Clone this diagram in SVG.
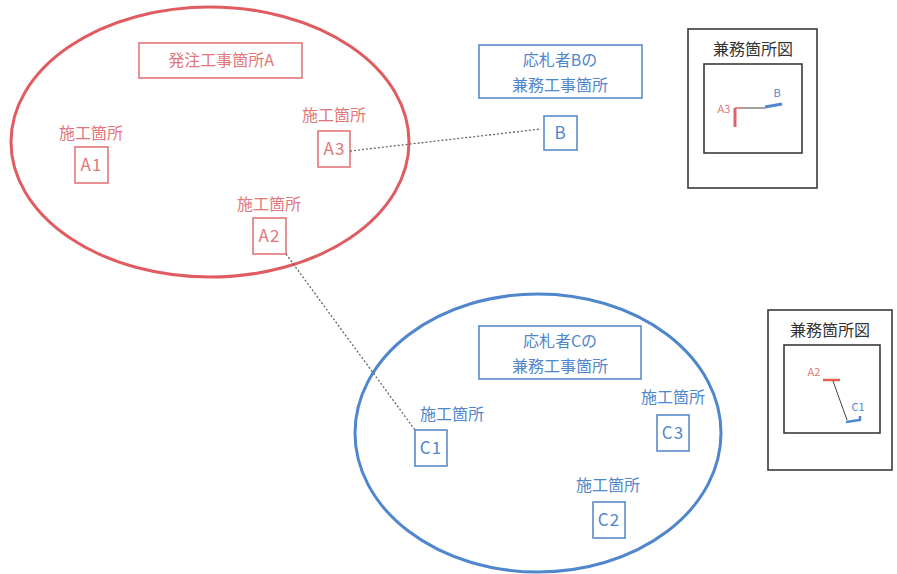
<svg xmlns="http://www.w3.org/2000/svg" width="897" height="574" viewBox="0 0 897 574">
<style>
text{font-family:"Noto Sans CJK JP","Noto Sans",sans-serif;font-size:16px;text-anchor:middle}
.r{fill:#e2767a}
.b{fill:#4f86cc}
.k{fill:#333}
.rb{fill:none;stroke:#e2767a;stroke-width:1.6}
.bb{fill:none;stroke:#5b8bc9;stroke-width:1.6}
.kb{fill:none;stroke:#3a3a3a;stroke-width:1.6}
.lbl{font-size:17px;letter-spacing:1px}
.dot{fill:none;stroke:#666;stroke-width:1.3;stroke-dasharray:2 2}
</style>
<rect width="897" height="574" fill="#fff"/>
<g id="groupA">
<ellipse cx="210" cy="142" rx="199" ry="135" fill="none" stroke="#e05c60" stroke-width="3"/>
<rect x="139" y="43" width="163" height="35" class="rb"/>
<text x="221" y="66" class="r">発注工事箇所A</text>
</g>
<g id="A1">
<text x="91" y="139" class="r">施工箇所</text>
<rect x="75" y="147" width="33" height="36" class="rb"/>
<text x="91.5" y="171" class="r lbl">A1</text>
</g>
<g id="A3">
<text x="334" y="121" class="r">施工箇所</text>
<rect x="318" y="131" width="32" height="36" class="rb"/>
<text x="334.5" y="155" class="r lbl">A3</text>
</g>
<g id="A2">
<text x="269" y="210" class="r">施工箇所</text>
<rect x="253" y="218" width="33" height="36" class="rb"/>
<text x="269.5" y="242" class="r lbl">A2</text>
</g>
<g id="Btitle">
<rect x="479" y="45" width="163" height="53" class="bb"/>
<text x="560" y="66" class="b">応札者Bの</text>
<text x="560" y="91" class="b">兼務工事箇所</text>
</g>
<g id="B">
<rect x="544" y="116" width="33" height="34" class="bb"/>
<text x="560.5" y="139" class="b lbl">B</text>
</g>
<g id="groupC">
<ellipse cx="538" cy="433" rx="183" ry="139" fill="none" stroke="#4f86cc" stroke-width="3"/>
<rect x="479" y="326" width="162" height="53" class="bb"/>
<text x="560" y="347" class="b">応札者Cの</text>
<text x="560" y="372" class="b">兼務工事箇所</text>
</g>
<g id="C1">
<text x="452" y="420" class="b">施工箇所</text>
<rect x="415" y="430" width="32" height="36" class="bb"/>
<text x="431" y="454" class="b lbl">C1</text>
</g>
<g id="C3">
<text x="673" y="403" class="b">施工箇所</text>
<rect x="657" y="415" width="32" height="36" class="bb"/>
<text x="673" y="439" class="b lbl">C3</text>
</g>
<g id="C2">
<text x="608" y="491" class="b">施工箇所</text>
<rect x="593" y="502" width="32" height="36" class="bb"/>
<text x="609" y="526" class="b lbl">C2</text>
</g>
<g id="connectors">
<path d="M350,151 L541,129" class="dot"/>
<path d="M286,254 L415,430" class="dot"/>
</g>
<g id="mapB">
<rect x="688" y="29" width="129" height="159" class="kb"/>
<text x="753" y="55" class="k">兼務箇所図</text>
<rect x="704" y="64" width="98" height="89" class="kb"/>
<text x="724" y="113" class="r" style="font-size:11px">A3</text>
<path d="M735,108 V127" stroke="#d9646c" stroke-width="3" fill="none"/>
<path d="M735,108 H741" stroke="#d9646c" stroke-width="1.5" fill="none"/>
<path d="M741,108 H765" stroke="#444" stroke-width="1" fill="none"/>
<path d="M765,107 L782,104" stroke="#4f86cc" stroke-width="3" fill="none"/>
<text x="777" y="97" class="b" style="font-size:11px">B</text>
</g>
<g id="mapC">
<rect x="768" y="310" width="124" height="160" class="kb"/>
<text x="830" y="336" class="k">兼務箇所図</text>
<rect x="784" y="345" width="96" height="88" class="kb"/>
<text x="814" y="376" class="r" style="font-size:11px">A2</text>
<path d="M823,380 H840" stroke="#e0604c" stroke-width="2.5" fill="none"/>
<path d="M833,381 L847,420" stroke="#444" stroke-width="1" fill="none"/>
<path d="M846,422 L860,420 V416" stroke="#4f86cc" stroke-width="2.5" fill="none"/>
<text x="858" y="411" class="b" style="font-size:11px">C1</text>
</g>
</svg>
